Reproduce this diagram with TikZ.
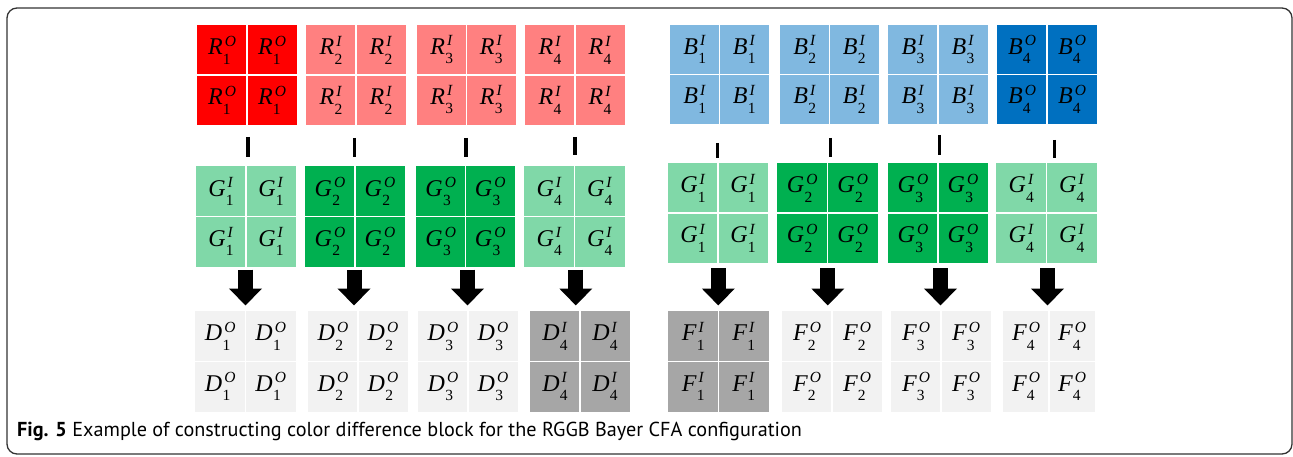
\documentclass[tikz,border=0pt]{standalone}
\usepackage{fontspec}
\setmainfont{Liberation Serif}
\newfontfamily\capfont{PT Sans}
\usetikzlibrary{arrows.meta,calc}

\definecolor{rdark}{HTML}{FF0000}
\definecolor{rlight}{HTML}{FF8080}
\definecolor{bdark}{HTML}{0070C0}
\definecolor{blight}{HTML}{80B8E0}
\definecolor{gdark}{HTML}{00B050}
\definecolor{glight}{HTML}{80D8A8}
\definecolor{dlight}{HTML}{F2F2F2}
\definecolor{ddark}{HTML}{A6A6A6}
\definecolor{framec}{HTML}{333333}

% letter with stacked subscript (upright) and superscript (italic)
\newcommand\subf{\fontsize{15.5}{15.5}\selectfont}
\newcommand\pix[3]{{\itshape #1}\kern0.3pt%
  \sbox0{\subf #2}\sbox2{\subf\itshape #3}%
  \rlap{\raisebox{-9.5pt}{\usebox0}}\kern1.8pt\raisebox{8.5pt}{\usebox2}%
  \ifdim\wd0>\wd2 \kern\dimexpr\wd0-\wd2-1.8pt\relax\fi}

% one 2x2 block: name, left, top, right, bottom, colour, letter, index, type
\newcommand\blockat[9]{%
  \node[blockbox, fill=#6, minimum width={(#4)-(#2)}, minimum height={(#5)-(#3)}]
    (#1) at ({((#2)+(#4))/2},{((#3)+(#5))/2}) {};
  \draw[gapline] (#1.north) -- (#1.south);
  \draw[gapline] (#1.west) -- (#1.east);
  \path let \p1=($(#1.north east)-(#1.south west)$) in
    node[cellsym] (#1-a) at ($(#1.center)+(-0.25*\x1,0.25*\y1)$) {\pix{#7}{#8}{#9}}
    node[cellsym] (#1-b) at ($(#1.center)+(0.25*\x1,0.25*\y1)$) {\pix{#7}{#8}{#9}}
    node[cellsym] (#1-c) at ($(#1.center)+(-0.25*\x1,-0.25*\y1)$) {\pix{#7}{#8}{#9}}
    node[cellsym] (#1-d) at ($(#1.center)+(0.25*\x1,-0.25*\y1)$) {\pix{#7}{#8}{#9}};
}

\tikzset{
  blockbox/.style={draw=none, inner sep=0pt, outer sep=0pt, rectangle},
  gapline/.style={white, line width=1.6pt},
  cellsym/.style={inner sep=0pt, font=\fontsize{24}{26}\selectfont},
  minusbar/.style={line width=3.4pt, black},
  fatarrow/.style={line width=15pt, black, -{Triangle[width=32pt,length=17pt]}},
  frame/.style={draw=framec, line width=1.3pt, rounded corners=10pt}
}

\begin{document}
\begin{tikzpicture}[x=1pt, y=-1pt]
\useasboundingbox (0,0) rectangle (1293,457);
\draw[frame] (7,8) rectangle (1292,454);

% red row
\blockat{R1}{197}{25}{297}{125}{rdark}{R}{1}{O}
\blockat{R2}{306}{25}{406}{125}{rlight}{R}{2}{I}
\blockat{R3}{417}{25}{516}{125}{rlight}{R}{3}{I}
\blockat{R4}{525}{25}{625}{125}{rlight}{R}{4}{I}
% blue row
\blockat{B1}{670}{25}{769}{124}{blight}{B}{1}{I}
\blockat{B2}{780}{25}{879}{124}{blight}{B}{2}{I}
\blockat{B3}{888}{25}{988}{124}{blight}{B}{3}{I}
\blockat{B4}{997}{25}{1097}{124}{bdark}{B}{4}{O}
% green rows
\blockat{GL1}{196}{166.5}{296}{266.5}{glight}{G}{1}{I}
\blockat{GL2}{305}{166.5}{405}{266.5}{gdark}{G}{2}{O}
\blockat{GL3}{416}{166.5}{515}{266.5}{gdark}{G}{3}{O}
\blockat{GL4}{524}{166.5}{625}{266.5}{glight}{G}{4}{I}
\blockat{GR1}{668}{163}{768}{263}{glight}{G}{1}{I}
\blockat{GR2}{777}{163}{878}{263}{gdark}{G}{2}{O}
\blockat{GR3}{888}{163}{988}{263}{gdark}{G}{3}{O}
\blockat{GR4}{996}{163}{1097}{263}{glight}{G}{4}{I}
% difference rows
\blockat{D1}{195}{311}{296}{412}{dlight}{D}{1}{O}
\blockat{D2}{308}{311}{408}{412}{dlight}{D}{2}{O}
\blockat{D3}{418}{311}{518}{412}{dlight}{D}{3}{O}
\blockat{D4}{530}{311}{630}{412}{ddark}{D}{4}{I}
\blockat{F1}{668}{311}{769}{412}{ddark}{F}{1}{I}
\blockat{F2}{782}{311}{882}{412}{dlight}{F}{2}{O}
\blockat{F3}{891}{311}{991}{412}{dlight}{F}{3}{O}
\blockat{F4}{1003}{311}{1095}{412}{dlight}{F}{4}{O}

% minus bars between colour and green blocks
\draw[minusbar] ($(R1.south)+(1,12)$) -- ($(R1.south)+(1,32)$);
\draw[minusbar] ($(R2.south)+(-1.7,13)$) -- ($(R2.south)+(-1.7,32)$);
\draw[minusbar] ($(R3.south)+(-0.5,13)$) -- ($(R3.south)+(-0.5,32)$);
\draw[minusbar] ($(R4.south)+(0,12)$) -- ($(R4.south)+(0,30)$);
\draw[minusbar] ($(B1.south)+(-2.2,19)$) -- ($(B1.south)+(-2.2,34)$);
\draw[minusbar] ($(B2.south)+(1.2,14)$) -- ($(B2.south)+(1.2,33)$);
\draw[minusbar] ($(B3.south)+(1.3,11)$) -- ($(B3.south)+(1.3,31)$);
\draw[minusbar] ($(B4.south)+(7.3,16)$) -- ($(B4.south)+(7.3,34)$);

% block arrows from green to difference blocks
\draw[fatarrow] ([xshift=-0.5pt,yshift=-3pt]GL1.south) -- ([xshift=-0.5pt,yshift=5.5pt]GL1.south |- D1.north);
\draw[fatarrow] ([xshift=-1pt,yshift=-3pt]GL2.south) -- ([xshift=-1pt,yshift=5.5pt]GL2.south |- D2.north);
\draw[fatarrow] ([xshift=2pt,yshift=-3pt]GL3.south) -- ([xshift=2pt,yshift=5.5pt]GL3.south |- D3.north);
\draw[fatarrow] ([xshift=1.3pt,yshift=-3pt]GL4.south) -- ([xshift=1.3pt,yshift=5.5pt]GL4.south |- D4.north);
\draw[fatarrow] ([xshift=0.3pt,yshift=-5pt]GR1.south) -- ([xshift=0.3pt,yshift=5.5pt]GR1.south |- F1.north);
\draw[fatarrow] ([xshift=0.3pt,yshift=-5pt]GR2.south) -- ([xshift=0.3pt,yshift=5.5pt]GR2.south |- F2.north);
\draw[fatarrow] ([xshift=2.5pt,yshift=-5pt]GR3.south) -- ([xshift=2.5pt,yshift=5.5pt]GR3.south |- F3.north);
\draw[fatarrow] ([xshift=1pt,yshift=-5pt]GR4.south) -- ([xshift=1pt,yshift=5.5pt]GR4.south |- F4.north);

% caption
\node[anchor=base west, inner sep=0pt] (caption) at (17,436)
  {\capfont\fontsize{20.2}{22}\selectfont\textbf{Fig. 5} Example of constructing color difference block for the RGGB Bayer CFA configuration};
\end{tikzpicture}
\end{document}
